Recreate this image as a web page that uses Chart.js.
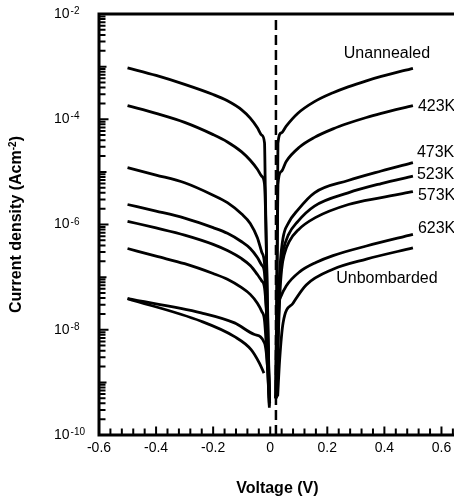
<!DOCTYPE html>
<html>
<head>
<meta charset="utf-8">
<title>Current density vs voltage</title>
<script src="https://cdn.jsdelivr.net/npm/chart.js@4.4.1/dist/chart.umd.min.js"></script>
<style>
  html, body { margin: 0; padding: 0; background: #fff; overflow: hidden; }
  canvas { display: block; }
</style>
</head>
<body>
<canvas id="jv" width="480" height="503"></canvas>
<script>
const FONT = '"Liberation Sans", Arial, Helvetica, sans-serif';

// J-V branches, voltage in V, current density in A/cm^2
// Rev = reverse bias (V < 0), Fwd = forward bias (V > 0)
const unannealedRevV = [-0.5, -0.4, -0.3, -0.2, -0.15, -0.1, -0.07, -0.045, -0.03, -0.02, -0.0175, -0.0105, -0.003];
const unannealedRevJ = [9.5e-4, 6.8e-4, 4.6e-4, 2.95e-4, 2.24e-4, 1.51e-4, 1.05e-4, 6.9e-5, 5.0e-5, 3.55e-5, 5.8e-6, 3.7e-8, 5e-10];
const unannealedFwdV = [0.019, 0.0225, 0.0255, 0.027, 0.039, 0.056, 0.097, 0.155, 0.22, 0.273, 0.337, 0.389, 0.5];
const unannealedFwdJ = [5e-10, 3e-8, 2e-6, 3.5e-5, 5.5e-5, 7.4e-5, 1.30e-4, 2.16e-4, 3.19e-4, 4.13e-4, 5.38e-4, 6.5e-4, 9.3e-4];

const k423RevV = [-0.5, -0.4, -0.3, -0.2, -0.15, -0.1, -0.07, -0.045, -0.03, -0.02, -0.0105, -0.003];
const k423RevJ = [1.82e-4, 1.29e-4, 8.7e-5, 5.1e-5, 3.7e-5, 2.4e-5, 1.66e-5, 1.12e-5, 8.3e-6, 5.8e-6, 5.8e-8, 5e-10];
const k423FwdV = [0.019, 0.023, 0.0255, 0.027, 0.039, 0.056, 0.103, 0.155, 0.22, 0.273, 0.337, 0.389, 0.5];
const k423FwdJ = [5e-10, 3e-8, 1e-6, 5.8e-6, 1.02e-5, 1.58e-5, 2.97e-5, 4.52e-5, 6.56e-5, 8.38e-5, 1.08e-4, 1.29e-4, 1.82e-4];

const k473RevV = [-0.5, -0.4, -0.3, -0.2, -0.15, -0.1, -0.07, -0.045, -0.03, -0.02, -0.012, -0.002];
const k473RevJ = [1.2e-5, 8.7e-6, 6.2e-6, 3.6e-6, 2.6e-6, 1.58e-6, 1.05e-6, 5.6e-7, 3.0e-7, 1.78e-7, 1.55e-8, 4e-10];
const k473FwdV = [0.021, 0.026, 0.03, 0.035, 0.045, 0.063, 0.097, 0.155, 0.273, 0.389, 0.5];
const k473FwdJ = [5e-10, 5e-9, 5e-8, 1.78e-7, 5.6e-7, 1.05e-6, 1.9e-6, 4.0e-6, 6.85e-6, 1.04e-5, 1.5e-5];

const k523RevV = [-0.5, -0.4, -0.3, -0.2, -0.15, -0.1, -0.07, -0.045, -0.03, -0.02, -0.0105, -0.003];
const k523RevJ = [2.4e-6, 1.8e-6, 1.32e-6, 8.7e-7, 6.8e-7, 4.7e-7, 3.5e-7, 2.35e-7, 1.7e-7, 1.2e-7, 1e-8, 4e-10];
const k523FwdV = [0.021, 0.028, 0.033, 0.038, 0.045, 0.063, 0.097, 0.155, 0.273, 0.389, 0.5];
const k523FwdJ = [5e-10, 1e-8, 7.9e-8, 1.78e-7, 3.16e-7, 6.3e-7, 1.15e-6, 2.24e-6, 4.0e-6, 6.0e-6, 8.3e-6];

const k573RevV = [-0.5, -0.4, -0.3, -0.2, -0.15, -0.1, -0.07, -0.045, -0.03, -0.02, -0.0088, -0.002];
const k573RevJ = [1.15e-6, 8.6e-7, 6.3e-7, 4.2e-7, 3.2e-7, 2.24e-7, 1.66e-7, 1.12e-7, 8.5e-8, 6.3e-8, 6.5e-9, 4e-10];
const k573FwdV = [0.021, 0.029, 0.034, 0.04, 0.05, 0.067, 0.098, 0.158, 0.274, 0.389, 0.5];
const k573FwdJ = [5e-10, 1e-8, 5e-8, 1.41e-7, 2.8e-7, 4.8e-7, 7.9e-7, 1.35e-6, 2.4e-6, 3.24e-6, 4.2e-6];

const k623RevV = [-0.5, -0.4, -0.3, -0.2, -0.15, -0.1, -0.07, -0.045, -0.03, -0.02, -0.012, -0.003];
const k623RevJ = [3.5e-7, 2.5e-7, 1.8e-7, 1.17e-7, 9.1e-8, 6.3e-8, 4.7e-8, 3.2e-8, 2.24e-8, 1.5e-8, 3.4e-9, 3.6e-10];
const k623FwdV = [0.0228, 0.027, 0.035, 0.056, 0.103, 0.16, 0.22, 0.337, 0.5];
const k623FwdJ = [1.1e-9, 2.1e-8, 4e-8, 6.8e-8, 1.26e-7, 1.9e-7, 2.57e-7, 3.9e-7, 6.5e-7];

// unbombarded reverse sweep was traced twice
const unbombRevV = [-0.5, -0.242, -0.125, -0.055, -0.02, -0.0088, -0.003];
const unbombRevJ = [3.9e-8, 2.1e-8, 1.35e-8, 8.1e-9, 5.6e-9, 1.7e-9, 3.3e-10];
const unbombRev2V = [-0.5, -0.242, -0.125, -0.067, -0.0375, -0.022];
const unbombRev2J = [3.9e-8, 1.45e-8, 7.4e-9, 4.2e-9, 2.3e-9, 1.5e-9];
const unbombFwdV = [0.026, 0.033, 0.045, 0.08, 0.126, 0.22, 0.337, 0.5];
const unbombFwdJ = [5.4e-10, 2.7e-9, 1.35e-8, 3.2e-8, 7.1e-8, 1.41e-7, 2.2e-7, 3.6e-7];

const curveNames = ['Unannealed', '423K', '473K', '523K', '573K', '623K', 'Unbombarded'];
const xTickLabels = [-0.6, -0.4, -0.2, 0, 0.2, 0.4, 0.6];
const yTickExponents = [-2, -4, -6, -8, -10];
const markerV = 0.02;   // dashed zero-bias line

const revBranches = [
  [unannealedRevV, unannealedRevJ], [k423RevV, k423RevJ], [k473RevV, k473RevJ],
  [k523RevV, k523RevJ], [k573RevV, k573RevJ], [k623RevV, k623RevJ],
  [unbombRevV, unbombRevJ], [unbombRev2V, unbombRev2J]
];
const fwdBranches = [
  [unannealedFwdV, unannealedFwdJ], [k423FwdV, k423FwdJ], [k473FwdV, k473FwdJ],
  [k523FwdV, k523FwdJ], [k573FwdV, k573FwdJ], [k623FwdV, k623FwdJ],
  [unbombFwdV, unbombFwdJ]
];

// where each curve name sits relative to the end of its forward branch
const labelPlace = [
  { dx: -26, dy: -15, align: 'center' },
  { dx: 5, dy: 1, align: 'left' },
  { dx: 4, dy: -10, align: 'left' },
  { dx: 4, dy: -2, align: 'left' },
  { dx: 5, dy: 4, align: 'left' },
  { dx: 5, dy: -6, align: 'left' },
  { dx: -26, dy: 31, align: 'center' }
];

const toPoints = (v, j) => v.map((x, i) => ({ x: x, y: j[i] }));
const isMajor = v => Math.abs(v * 5 - Math.round(v * 5)) < 1e-6;

const lineStyle = {
  borderColor: '#000',
  borderWidth: 2.8,
  pointRadius: 0,
  fill: false,
  cubicInterpolationMode: 'monotone'
};

const datasets = [];
revBranches.concat(fwdBranches).forEach(b => {
  datasets.push(Object.assign({ data: toPoints(b[0], b[1]) }, lineStyle));
});
datasets.push({
  data: [{ x: markerV, y: 1e-10 }, { x: markerV, y: 1e-2 }],
  borderColor: '#000',
  borderWidth: 2.5,
  borderDash: [10, 5],
  pointRadius: 0,
  fill: false
});

const xMinorTicks = [];
for (let i = 0; i <= 32; i++) xMinorTicks.push(Math.round((-0.6 + i * 0.04) * 100) / 100);

const axesPlugin = {
  id: 'axes',
  afterDraw(chart) {
    const { ctx, chartArea: a, scales: { x, y } } = chart;
    ctx.save();
    ctx.strokeStyle = '#000';
    ctx.fillStyle = '#000';

    // frame: top, left, bottom; the right side runs off the canvas
    ctx.lineWidth = 3;
    ctx.beginPath();
    ctx.moveTo(chart.width, a.top);
    ctx.lineTo(a.left, a.top);
    ctx.lineTo(a.left, a.bottom);
    ctx.lineTo(chart.width, a.bottom);
    ctx.stroke();

    // inward tick marks
    ctx.lineWidth = 2;
    ctx.beginPath();
    for (let e = -10; e < -2; e++) {
      for (let m = 1; m < 10; m++) {
        const py = y.getPixelForValue(m * Math.pow(10, e));
        const len = m === 1 ? (e % 2 === 0 ? 8 : 6) : 5;
        ctx.moveTo(a.left, py);
        ctx.lineTo(a.left + 1.5 + len, py);
      }
    }
    x.ticks.forEach(t => {
      const px = x.getPixelForValue(t.value);
      const len = isMajor(t.value) ? 7 : 5;
      ctx.moveTo(px, a.bottom);
      ctx.lineTo(px, a.bottom - 1.5 - len);
    });
    ctx.stroke();

    // 10^n labels on the log axis
    ctx.textAlign = 'left';
    yTickExponents.forEach(e => {
      const py = y.getPixelForValue(Math.pow(10, e));
      ctx.font = '14px ' + FONT;
      ctx.textBaseline = 'middle';
      ctx.fillText('10', a.left - 45, py);
      const w = ctx.measureText('10').width;
      ctx.font = '10px ' + FONT;
      ctx.textBaseline = 'alphabetic';
      ctx.fillText(String(e), a.left - 45 + w + 1, py);
    });

    // axis titles
    ctx.font = 'bold 16px ' + FONT;
    ctx.textAlign = 'center';
    ctx.textBaseline = 'middle';
    ctx.fillText('Voltage (V)', x.getPixelForValue(0.025), a.bottom + 54);

    ctx.save();
    ctx.translate(a.left - 82, (a.top + a.bottom) / 2);
    ctx.rotate(-Math.PI / 2);
    const main = 'Current density (Acm', sup = '-2', close = ')';
    ctx.font = 'bold 16px ' + FONT;
    const wMain = ctx.measureText(main).width;
    const wClose = ctx.measureText(close).width;
    ctx.font = 'bold 10px ' + FONT;
    const wSup = ctx.measureText(sup).width;
    let cx = -(wMain + wSup + wClose) / 2;
    ctx.textAlign = 'left';
    ctx.font = 'bold 16px ' + FONT;
    ctx.textBaseline = 'middle';
    ctx.fillText(main, cx, 0);
    cx += wMain;
    ctx.font = 'bold 10px ' + FONT;
    ctx.textBaseline = 'alphabetic';
    ctx.fillText(sup, cx, -1.5);
    cx += wSup;
    ctx.font = 'bold 16px ' + FONT;
    ctx.textBaseline = 'middle';
    ctx.fillText(close, cx, 0);
    ctx.restore();

    // curve names at the forward-bias ends
    ctx.font = '16px ' + FONT;
    ctx.textBaseline = 'middle';
    fwdBranches.forEach((b, i) => {
      const n = b[0].length - 1;
      const p = labelPlace[i];
      ctx.textAlign = p.align;
      ctx.fillText(curveNames[i],
        x.getPixelForValue(b[0][n]) + p.dx,
        y.getPixelForValue(b[1][n]) + p.dy);
    });

    ctx.restore();
  }
};

new Chart(document.getElementById('jv'), {
  type: 'line',
  data: { datasets: datasets },
  plugins: [axesPlugin],
  options: {
    responsive: false,
    animation: false,
    devicePixelRatio: 1,
    layout: { padding: { top: 14, right: 10, left: 0, bottom: 0 } },
    plugins: { legend: { display: false }, tooltip: { enabled: false } },
    scales: {
      x: {
        type: 'linear',
        min: -0.6,
        max: 0.7,
        grid: { display: false, drawTicks: false },
        border: { display: false },
        afterBuildTicks: s => { s.ticks = xMinorTicks.map(v => ({ value: v })); },
        afterFit: s => { s.height = 68; },
        ticks: {
          color: '#000',
          font: { family: FONT, size: 14 },
          padding: 5,
          maxRotation: 0,
          autoSkip: false,
          callback: v => {
            const hit = xTickLabels.find(t => Math.abs(t - v) < 1e-6);
            return hit === undefined ? '' : String(hit);
          }
        }
      },
      y: {
        type: 'logarithmic',
        min: 1e-10,
        max: 1e-2,
        grid: { display: false },
        border: { display: false },
        ticks: { display: false },
        afterFit: s => { s.width = 99; }
      }
    }
  }
});
</script>
</body>
</html>
